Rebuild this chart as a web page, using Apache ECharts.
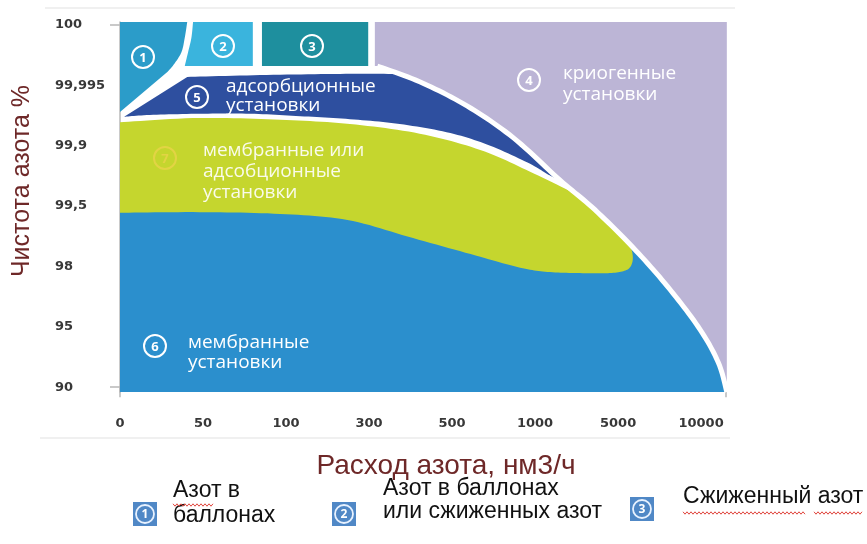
<!DOCTYPE html>
<html>
<head>
<meta charset="utf-8">
<script src="https://cdn.jsdelivr.net/npm/echarts@6/dist/echarts.min.js"></script>
<style>
  html, body { margin: 0; padding: 0; background: #ffffff; }
  #chart { width: 867px; height: 544px; }
</style>
</head>
<body>
<div id="chart"></div>
<script>
// Tick labels of the two schematic axes (each tick is one step on the axis)
const flowTicks = ['0', '50', '100', '300', '500', '1000', '5000', '10000'];
const purityTicks = ['90', '95', '98', '99,5', '99,9', '99,995', '100'];

// Zone outlines on the tick-step scale: x = flow step, y = purity step.
// An edge with two points is straight; longer edges are smooth curves.
const cryoBoundary = [[3.10, 5.32], [3.61, 5.06], [4.18, 4.66], [4.74, 4.13], [5.30, 3.43],
  [5.72, 2.94], [6.21, 2.27], [6.63, 1.61], [6.99, 0.95], [7.21, 0.40], [7.31, -0.08]];

const cylinderZone = [
  [[0, 4.56], [0, 6.05]],
  [[0, 6.05], [0.81, 6.05]],
  [[0.81, 6.05], [0.78, 5.79], [0.74, 5.55], [0.65, 5.35], [0.57, 5.22]],
  [[0.57, 5.22], [0, 4.56]]
];
const cylinderOrLiquidZone = [
  [[0.88, 6.05], [1.60, 6.05]],
  [[1.60, 6.05], [1.60, 5.32]],
  [[1.60, 5.32], [0.78, 5.32]],
  [[0.78, 5.32], [0.82, 5.55], [0.86, 5.79], [0.88, 6.05]]
];
const liquidZone = [
  [[1.71, 6.05], [2.99, 6.05]],
  [[2.99, 6.05], [2.99, 5.32]],
  [[2.99, 5.32], [1.71, 5.32]],
  [[1.71, 5.32], [1.71, 6.05]]
];
const adsorptionTop = [[0.81, 5.14], [1.69, 5.17], [2.65, 5.19], [3.35, 5.19]];
const adsorptionBottom = [[5.30, 3.43], [5.16, 3.52], [4.94, 3.70], [4.46, 4.00], [3.98, 4.21],
  [3.37, 4.36], [2.77, 4.44], [2.17, 4.49], [1.57, 4.53], [0.96, 4.53], [0.36, 4.51], [0.05, 4.48]];
const mixedTop = [[0, 4.39], [0.96, 4.46], [1.93, 4.43], [2.77, 4.36], [3.61, 4.20],
  [4.34, 3.93], [4.94, 3.57], [5.52, 3.18]];
const mixedBottom = [[6.12, 2.39], [6.17, 2.24], [6.17, 2.06], [6.10, 1.94], [5.90, 1.89],
  [5.54, 1.89], [5.15, 1.91], [4.82, 1.98], [4.34, 2.16], [3.53, 2.47], [2.74, 2.77],
  [1.93, 2.87], [0.96, 2.90], [0, 2.89]];
const membraneTop = [[0, 3.02], [5.66, 3.00]];

const legendItems = ['Азот в\nбаллонах', 'Азот в баллонах\nили сжиженных азот', 'Сжиженный азот'];

// Assembled outlines
const cryoZone = [
  [[3.07, 5.32], [3.07, 6.05]],
  [[3.07, 6.05], [7.31, 6.05]],
  [[7.31, 6.05], [7.31, -0.08]],
  cryoBoundary.slice().reverse(),
  [[3.10, 5.32], [3.07, 5.32]]
];
const membraneZone = [
  membraneTop,
  [membraneTop[1]].concat(cryoBoundary.slice(5)),
  [[7.31, -0.08], [0, -0.08]],
  [[0, -0.08], membraneTop[0]]
];
const mixedZone = [
  mixedTop,
  [mixedTop[mixedTop.length - 1], cryoBoundary[5], mixedBottom[0]],
  mixedBottom,
  [mixedBottom[mixedBottom.length - 1], mixedTop[0]]
];
const adsorptionZone = [
  [adsorptionBottom[adsorptionBottom.length - 1], adsorptionTop[0]],
  adsorptionTop,
  [adsorptionTop[adsorptionTop.length - 1]].concat(cryoBoundary.slice(1, 5)),
  adsorptionBottom
];

const zones = [
  { name: 'криогенные установки', color: '#bcb5d6', edges: cryoZone },
  { name: 'мембранные установки', color: '#2b8fcd', edges: membraneZone },
  { name: 'мембранные или адсобционные установки', color: '#c5d62e', edges: mixedZone },
  { name: 'адсорбционные установки', color: '#2e4f9f', edges: adsorptionZone },
  { name: 'Азот в баллонах', color: '#2b9cc9', edges: cylinderZone },
  { name: 'Азот в баллонах или сжиженных азот', color: '#3ab4dd', edges: cylinderOrLiquidZone },
  { name: 'Сжиженный азот', color: '#1e8f9e', edges: liquidZone }
];

// Catmull-Rom curve through pixel points
function smoothRun(pts, steps) {
  const out = [];
  for (let i = 0; i < pts.length - 1; i++) {
    const p0 = pts[i - 1] || pts[i], p1 = pts[i], p2 = pts[i + 1], p3 = pts[i + 2] || pts[i + 1];
    for (let s = 0; s < steps; s++) {
      const t = s / steps, t2 = t * t, t3 = t2 * t;
      out.push([0, 1].map(k => 0.5 * (2 * p1[k] + (-p0[k] + p2[k]) * t +
        (2 * p0[k] - 5 * p1[k] + 4 * p2[k] - p3[k]) * t2 +
        (-p0[k] + 3 * p1[k] - 3 * p2[k] + p3[k]) * t3)));
    }
  }
  out.push(pts[pts.length - 1]);
  return out;
}

function outline(edges, api) {
  const pts = [];
  edges.forEach(edge => {
    const px = edge.map(p => api.coord(p));
    const run = px.length > 2 ? smoothRun(px, 12) : px;
    run.forEach((p, i) => { if (i === 0 && pts.length) return; pts.push(p); });
  });
  return pts;
}

const zoneSeries = zones.map(z => ({
  type: 'custom',
  name: z.name,
  coordinateSystem: 'cartesian2d',
  silent: true,
  data: [z.edges[0][0]],
  renderItem: (params, api) => ({
    type: 'polygon',
    shape: { points: outline(z.edges, api) },
    style: { fill: z.color }
  })
}));

// White gap along the cryogenic boundary
zoneSeries.push({
  type: 'custom',
  coordinateSystem: 'cartesian2d',
  silent: true,
  data: [cryoBoundary[0]],
  renderItem: (params, api) => ({
    type: 'polyline',
    shape: { points: smoothRun(cryoBoundary.map(p => api.coord(p)), 12) },
    style: { stroke: '#ffffff', lineWidth: 5, fill: null }
  })
});

// Zone captions and numbered markers
const W = '#ffffff';
const TOP = 50;
function badge(n, cx, cy, color) {
  return [
    { type: 'circle', z: TOP, shape: { cx: cx, cy: cy, r: 11 }, style: { fill: 'none', stroke: color, lineWidth: 2 } },
    { type: 'text', z: TOP, x: cx, y: cy + 1, style: { text: n, fill: color, font: 'bold 13px "Open Sans"', align: 'center', verticalAlign: 'middle' } }
  ];
}
function caption(text, x, yTop, lh, color) {
  return { type: 'text', z: TOP, x: x, y: yTop,
    style: { text: text, fill: color || W, font: '19px "Open Sans"', lineHeight: lh, align: 'left', verticalAlign: 'top' } };
}
function squiggle(x1, x2, y) {
  const pts = [];
  for (let x = x1, k = 0; x <= x2; x += 2, k++) pts.push([x, y + (k % 2 ? 1.2 : -1.2)]);
  return { type: 'polyline', z: TOP, shape: { points: pts }, style: { stroke: '#e0443c', lineWidth: 1, fill: null } };
}
function legendIcon(n, x, y) {
  return [
    { type: 'rect', z: TOP, shape: { x: x, y: y, width: 24, height: 24 }, style: { fill: '#5088c6' } },
    { type: 'circle', z: TOP, shape: { cx: x + 12, cy: y + 12, r: 9 }, style: { fill: 'none', stroke: '#e8f2ff', lineWidth: 1.8 } },
    { type: 'text', z: TOP, x: x + 12, y: y + 12.5, style: { text: n, fill: '#ffffff', font: 'bold 12px "Open Sans"', align: 'center', verticalAlign: 'middle' } }
  ];
}
function legendText(text, x, yTop, lh) {
  return { type: 'text', z: TOP, x: x, y: yTop,
    style: { text: text, fill: '#111111', font: '23px "Liberation Sans"', lineHeight: lh, align: 'left', verticalAlign: 'top' } };
}
const titleColor = '#6e2828';

const graphics = [].concat(
  [
    { type: 'line', z: 1, shape: { x1: 45, y1: 8, x2: 735, y2: 8 }, style: { stroke: '#f0f0f0', lineWidth: 2 } },
    { type: 'line', z: 1, shape: { x1: 40, y1: 438, x2: 730, y2: 438 }, style: { stroke: '#ebebeb', lineWidth: 1.5 } }
  ],
  badge('1', 143, 57, W), badge('2', 223, 46, W), badge('3', 312, 46, W),
  badge('4', 529, 80, W), badge('5', 197, 97, W), badge('6', 155, 346, W),
  badge('7', 165, 158, '#e2d444'),
  [
    caption('криогенные\nустановки', 563, 63, 21),
    caption('адсорбционные\nустановки', 226, 77, 19),
    caption('мембранные или\nадсобционные\nустановки', 203, 140, 21, 'rgba(255,255,255,0.9)'),
    caption('мембранные\nустановки', 188, 333, 20)
  ],
  legendIcon('1', 133, 502), legendIcon('2', 332, 502), legendIcon('3', 630, 497),
  [
    legendText(legendItems[0], 173, 478, 25),
    legendText(legendItems[1], 383, 477, 23),
    legendText(legendItems[2], 683, 485, 24),
    squiggle(173, 214, 505),
    squiggle(683, 806, 513),
    squiggle(814, 862, 513),
    // axis titles
    { type: 'text', z: TOP, x: 446, y: 466,
      style: { text: 'Расход азота, нм3/ч', fill: titleColor, font: '28px "Liberation Sans"', align: 'center', verticalAlign: 'middle' } },
    { type: 'text', z: TOP, x: 22, y: 181, rotation: Math.PI / 2,
      style: { text: 'Чистота азота %', fill: titleColor, font: '25px "Liberation Sans"', align: 'center', verticalAlign: 'middle' } }
  ]
);

const axisFont = { fontFamily: 'DejaVu Sans', fontWeight: 'bold', fontSize: 13, color: '#383838' };
const axisLineStyle = { color: '#b8b8b8', width: 1.5 };

const chart = echarts.init(document.getElementById('chart'));
chart.setOption({
  backgroundColor: '#ffffff',
  animation: false,
  grid: { left: 120, right: 141, top: 22, bottom: 152 },
  xAxis: {
    type: 'value', min: 0, max: 7.3, offset: 7,
    axisLine: { show: true, lineStyle: axisLineStyle },
    axisTick: { show: true, customValues: [0, 7.3], length: 10, lineStyle: axisLineStyle },
    axisLabel: Object.assign({ customValues: flowTicks.map((t, i) => i), margin: 18,
      formatter: v => flowTicks[Math.round(v)] }, axisFont),
    splitLine: { show: false }
  },
  yAxis: {
    type: 'value', min: -0.08, max: 6.05, offset: 9,
    axisLine: { show: true, lineStyle: axisLineStyle },
    axisTick: { show: true, customValues: [0, 6], length: 10, lineStyle: axisLineStyle },
    axisLabel: Object.assign({ customValues: purityTicks.map((t, i) => i), margin: 56, align: 'left',
      formatter: v => purityTicks[Math.round(v)] }, axisFont),
    splitLine: { show: false }
  },
  graphic: { elements: graphics },
  series: zoneSeries
});
</script>
</body>
</html>
